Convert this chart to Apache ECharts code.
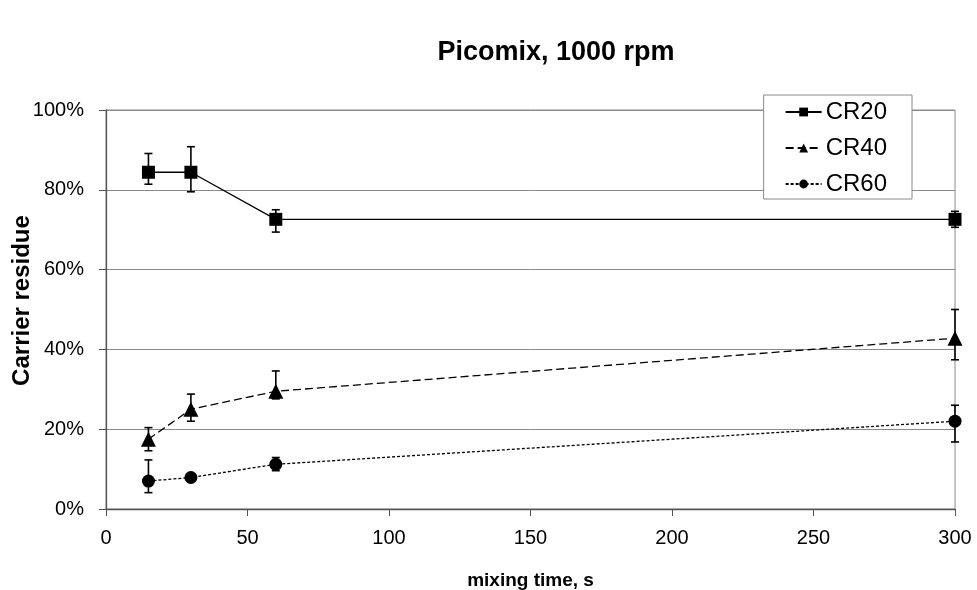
<!DOCTYPE html>
<html>
<head>
<meta charset="utf-8">
<script src="https://cdn.jsdelivr.net/npm/echarts@6/dist/echarts.min.js"></script>
<style>
  html, body { margin: 0; padding: 0; background: #fff; }
  #chart { width: 977px; height: 590px; }
</style>
</head>
<body>
<div id="chart"></div>
<script>
// Mixing time (s) at which residue was measured
const mixingTime = [15, 30, 60, 300];

// Mean carrier residue (%) per carrier grade
const cr20 = [84.4, 84.4, 72.6, 72.6];
const cr40 = [17.5, 25.0, 29.5, 42.8];
const cr60 = [7.0, 7.9, 11.2, 22.0];

// Error bar ranges [low, high] (%)
const cr20Err = [[81.4, 89.1], [79.5, 90.8], [69.4, 75.0], [70.6, 74.6]];
const cr40Err = [[14.6, 20.4], [22.0, 28.8], [27.6, 34.6], [37.4, 50.0]];
const cr60Err = [[4.1, 12.3], [7.2, 8.6], [9.6, 12.9], [16.8, 26.0]];

const seriesNames = ['CR20', 'CR40', 'CR60'];

const FONT = '"Liberation Sans", Arial, sans-serif';

function pairs(values) {
  return mixingTime.map((t, i) => [t, values[i]]);
}

function errorData(ranges) {
  return mixingTime.map((t, i) => [t, ranges[i][0], ranges[i][1]]);
}

// Vertical whiskers with short caps at both ends
function errorSeries(ranges) {
  return {
    type: 'custom',
    silent: true,
    z: 1,
    data: errorData(ranges),
    encode: { x: 0, y: [1, 2] },
    renderItem: function (params, api) {
      const x = api.value(0);
      const lo = api.coord([x, api.value(1)]);
      const hi = api.coord([x, api.value(2)]);
      const cap = 4;
      const style = { stroke: '#000', lineWidth: 1.6 };
      return {
        type: 'group',
        children: [
          { type: 'line', shape: { x1: lo[0], y1: lo[1], x2: hi[0], y2: hi[1] }, style: style },
          { type: 'line', shape: { x1: lo[0] - cap, y1: lo[1], x2: lo[0] + cap, y2: lo[1] }, style: style },
          { type: 'line', shape: { x1: hi[0] - cap, y1: hi[1], x2: hi[0] + cap, y2: hi[1] }, style: style }
        ]
      };
    }
  };
}

function lineSeries(name, values, symbol, size, dash) {
  return {
    name: name,
    type: 'line',
    data: pairs(values),
    symbol: symbol,
    symbolSize: size,
    showAllSymbol: true,
    z: 3,
    itemStyle: { color: '#000' },
    lineStyle: { color: '#000', width: 1.3, type: dash },
    emphasis: { disabled: true }
  };
}

const chart = echarts.init(document.getElementById('chart'), null, { renderer: 'canvas' });

chart.setOption({
  backgroundColor: '#fff',
  animation: false,
  title: {
    text: 'Picomix, 1000 rpm',
    left: 551,
    top: 34,
    textAlign: 'center',
    textStyle: { fontFamily: FONT, fontSize: 27, fontWeight: 'bold', color: '#000' }
  },
  legend: {
    data: seriesNames,
    orient: 'vertical',
    right: 65,
    top: 95,
    padding: [5, 25, 3, 21],
    itemGap: 12,
    itemWidth: 36,
    itemHeight: 11,
    borderColor: '#888',
    borderWidth: 1,
    backgroundColor: '#fff',
    textStyle: { fontFamily: FONT, fontSize: 24, color: '#000', padding: [0, 0, 0, -1] }
  },
  grid: {
    left: 106,
    right: 22,
    top: 110,
    bottom: 81,
    containLabel: false,
    outerBoundsMode: 'none',
    show: true,
    borderColor: '#8a8a8a',
    borderWidth: 1
  },
  xAxis: {
    type: 'value',
    min: 0,
    max: 300,
    interval: 50,
    name: 'mixing time, s',
    nameLocation: 'middle',
    nameGap: 62,
    nameMoveOverlap: false,
    nameTextStyle: { fontFamily: FONT, fontSize: 19, fontWeight: 'bold', color: '#000' },
    axisLine: { onZero: false, lineStyle: { color: '#555', width: 1.3 } },
    axisTick: { show: true, length: 7, lineStyle: { color: '#555' } },
    axisLabel: { fontFamily: FONT, fontSize: 20, color: '#000', margin: 19 },
    splitLine: { show: false }
  },
  yAxis: {
    type: 'value',
    min: 0,
    max: 100,
    interval: 20,
    name: 'Carrier residue',
    nameLocation: 'middle',
    nameGap: 72,
    nameMoveOverlap: false,
    nameRotate: 90,
    nameTextStyle: { fontFamily: FONT, fontSize: 24, fontWeight: 'bold', color: '#000', padding: [0, 0, 0, 18] },
    axisLine: { show: true, lineStyle: { color: '#555', width: 1.3 } },
    axisTick: { show: true, length: 7, lineStyle: { color: '#555' } },
    axisLabel: { fontFamily: FONT, fontSize: 20, color: '#000', margin: 22, formatter: '{value}%' },
    splitLine: { show: true, lineStyle: { color: '#8a8a8a', width: 1 } }
  },
  series: [
    errorSeries(cr20Err),
    errorSeries(cr40Err),
    errorSeries(cr60Err),
    lineSeries('CR20', cr20, 'rect', 13, 'solid'),
    lineSeries('CR40', cr40, 'triangle', 15, [8, 4]),
    lineSeries('CR60', cr60, 'circle', 13, [3, 2])
  ]
});
</script>
</body>
</html>
